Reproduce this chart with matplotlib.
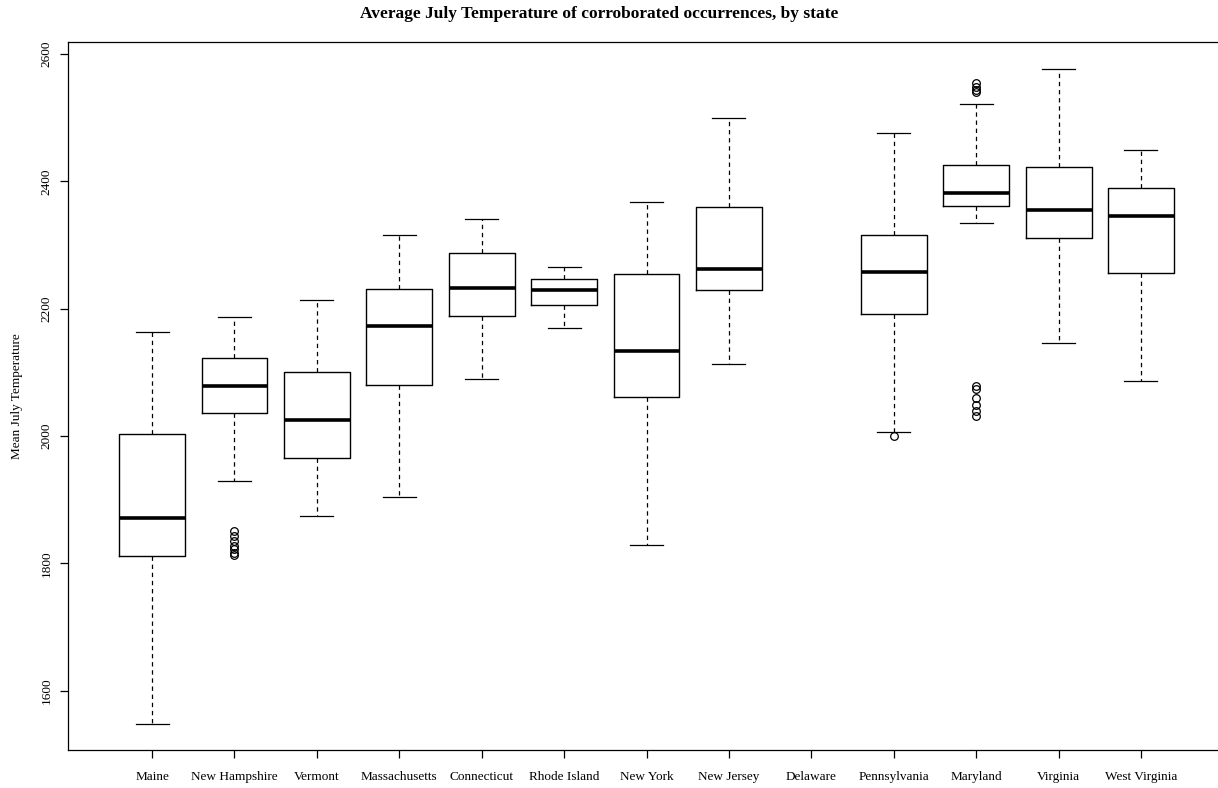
import matplotlib
matplotlib.use("Agg")
import matplotlib.pyplot as plt

plt.rcParams['font.family'] = ['Liberation Serif', 'DejaVu Serif']

states = ["Maine", "New Hampshire", "Vermont", "Massachusetts", "Connecticut",
          "Rhode Island", "New York", "New Jersey", "Delaware", "Pennsylvania",
          "Maryland", "Virginia", "West Virginia"]

# whisker low, q1, median, q3, whisker high (None = no data)
whislo = [1548, 1930, 1874, 1904, 2090, 2170, 1829, 2114, None, 2007, 2334, 2146, 2086]
q1     = [1812, 2037, 1966, 2080, 2188, 2206, 2061, 2230, None, 2192, 2362, 2311, 2256]
med    = [1872, 2079, 2026, 2173, 2233, 2229, 2134, 2263, None, 2258, 2382, 2355, 2346]
q3     = [2004, 2122, 2101, 2231, 2287, 2246, 2255, 2360, None, 2316, 2426, 2422, 2390]
whishi = [2164, 2187, 2213, 2316, 2341, 2265, 2368, 2499, None, 2476, 2522, 2577, 2449]
fliers = [[], [1851, 1843, 1835, 1828, 1822, 1817, 1813], [], [], [], [], [], [], [],
          [2000], [2554, 2548, 2544, 2541, 2078, 2074, 2060, 2049, 2039, 2031], [], []]

stats = []
positions = []
for i in range(len(states)):
    if med[i] is None:
        continue
    stats.append(dict(whislo=whislo[i], q1=q1[i], med=med[i], q3=q3[i],
                      whishi=whishi[i], fliers=fliers[i]))
    positions.append(i + 1)

fig = plt.figure(figsize=(12.18, 7.88), dpi=100)
W, H = 1218, 788
ax = fig.add_axes([68 / W, (H - 750) / H, (1225 - 68) / W, (750 - 42) / H])

ax.bxp(stats, positions=positions, widths=0.8, showfliers=True,
       boxprops=dict(color='black', linewidth=1.0),
       medianprops=dict(color='black', linewidth=2.6, solid_capstyle='butt'),
       whiskerprops=dict(color='black', linewidth=0.9, linestyle=(0, (3.5, 3))),
       capprops=dict(color='black', linewidth=0.9),
       flierprops=dict(marker='o', markerfacecolor='none', markeredgecolor='black',
                       markersize=5.5, markeredgewidth=0.9))

ax.set_xlim(-0.02, 14.02)
ax.set_ylim(1507, 2619)
ax.set_xticks(range(1, len(states) + 1))
ax.set_xticklabels(states, fontsize=9.5)
ax.set_yticks([1600, 1800, 2000, 2200, 2400, 2600])
ax.set_yticklabels(['1600', '1800', '2000', '2200', '2400', '2600'],
                   fontsize=9.5, rotation=90, va='center')
ax.tick_params(axis='both', direction='out', length=6, width=0.9)
ax.tick_params(axis='x', pad=9)
ax.tick_params(axis='y', pad=5)
for s in ax.spines.values():
    s.set_linewidth(0.9)

ax.set_ylabel('Mean July Temperature', fontsize=9.5)
ax.yaxis.set_label_coords(-45 / (1225 - 68), 0.5)
fig.text(599 / W, 1 - 14 / H, 'Average July Temperature of corroborated occurrences, by state',
         ha='center', va='center', fontsize=12.5, fontweight='bold')

fig.savefig('out.png', dpi=100)
